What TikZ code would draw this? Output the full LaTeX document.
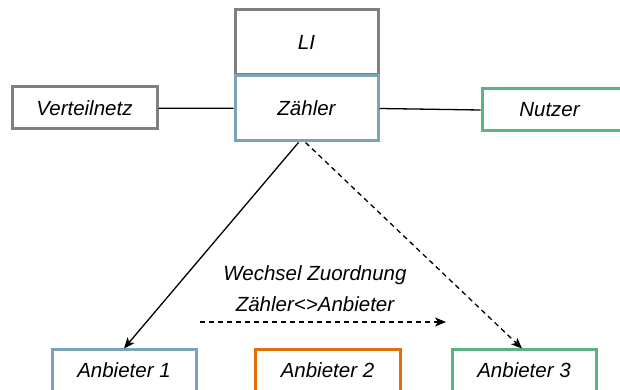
\documentclass[tikz,border=0pt]{standalone}
\usepackage{fontspec}
\setmainfont{Liberation Sans}
\usetikzlibrary{arrows.meta}

\definecolor{boxgray}{RGB}{128,128,128}
\definecolor{boxblue}{RGB}{122,163,181}
\definecolor{boxgreen}{RGB}{92,178,130}
\definecolor{boxorange}{RGB}{226,112,10}

\begin{document}
\begin{tikzpicture}[x=1pt, y=-1pt,
    box/.style={draw=#1, line width=3pt, fill=white, inner sep=0pt,
      font=\fontsize{20.5}{25}\selectfont\itshape},
    link/.style={line width=1.3pt},
    tip/.style={-{Stealth[length=11pt,width=9pt,inset=3pt]}}]
    \useasboundingbox (0,0) rectangle (620,390);

    % LI and Zähler
    \node[box=boxgray, minimum width=143pt, minimum height=65pt] (li) at (306.5,42.5) {LI};
    \node[box=boxblue, minimum width=143pt, minimum height=65pt] (zaehler) at (306.5,108.5) {Zähler};

    % Verteilnetz and Nutzer
    \node[box=boxgray, minimum width=145pt, minimum height=42pt] (netz) at (84.5,108) {Verteilnetz};
    \node[box=boxgreen, minimum width=145pt, minimum height=42pt] (nutzer) at (554.5,110) {\hspace*{-10pt}Nutzer};

    % Anbieter
    \node[box=boxblue, minimum width=144pt, minimum height=42pt] (a1) at (124,370) {Anbieter 1};
    \node[box=boxorange, minimum width=145pt, minimum height=42pt] (a2) at (327.5,370) {Anbieter 2};
    \node[box=boxgreen, minimum width=144pt, minimum height=42pt] (a3) at (524,370) {Anbieter 3};

    % Links
    \draw[link] (netz) -- (zaehler);
    \draw[link] (zaehler.east) -- (nutzer.west);

    % Zuordnung
    \draw[link, tip] ([xshift=-8pt]zaehler.south) -- ([yshift=-1pt]a1.north);
    \draw[link, tip, dashed, dash pattern=on 5pt off 4pt] ([xshift=-1pt]zaehler.south) -- ([xshift=-2pt,yshift=-1pt]a3.north);

    % Wechsel
    \node[font=\fontsize{20.5}{31}\selectfont\itshape, align=center] (wechsel) at (315,289) {Wechsel Zuordnung\\Zähler<>Anbieter};
    \coordinate (von) at (200,322);
    \coordinate (nach) at (446,322);
    \draw[link, tip, dashed, dash pattern=on 5pt off 4pt] (von) -- (nach);
\end{tikzpicture}
\end{document}
